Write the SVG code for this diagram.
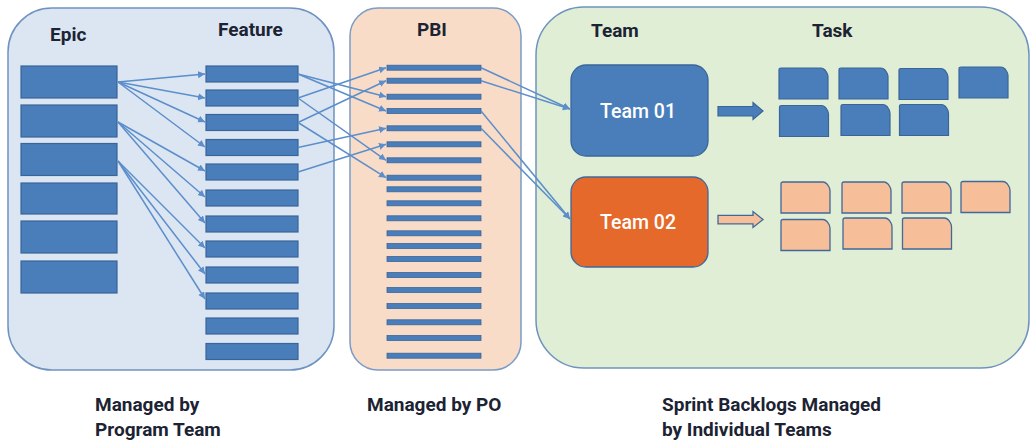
<svg xmlns="http://www.w3.org/2000/svg" xmlns:xlink="http://www.w3.org/1999/xlink" width="1030" height="442" viewBox="0 0 1030 442">
<style>
.lbl{font-family:Roboto,"Liberation Sans",Arial,sans-serif;font-weight:700;font-size:19px;fill:#1c2333}
.wt{font-family:Roboto,"Liberation Sans",Arial,sans-serif;font-weight:500;font-size:19.5px;fill:#ffffff;text-anchor:middle}
.blue{fill:#4a7ebb;stroke:#3a659a;stroke-width:1.2}
.bar{fill:#4a7ebb;stroke:#3a659a;stroke-width:0.8}
.org{fill:#f6bf99;stroke:#41689a;stroke-width:1.3}
.con{fill:none;stroke:#5b8ecb;stroke-width:1.5;marker-end:url(#ah)}
</style>
<defs>
<marker id="ah" markerUnits="userSpaceOnUse" markerWidth="8" markerHeight="8" refX="7" refY="3.5" orient="auto">
<path d="M0,0 L7,3.5 L0,7 Z" fill="#5b8ecb"/>
</marker>
<path id="card" d="M2,0 H42 Q44,0 46,2 L48,5 Q49,7 49,9 V31 H0 V2 Q0,0 2,0 Z"/>
</defs>
<rect width="1030" height="442" fill="#ffffff"/>

<g id="epic-container">
<rect x="8" y="8" width="326" height="362" rx="44" fill="#dce6f2" stroke="#6e93c0" stroke-width="1.5"/>
<text class="lbl" x="50" y="41">Epic</text>
<text class="lbl" x="218" y="36">Feature</text>
</g>
<g id="pbi-container">
<rect x="350" y="8" width="171" height="362" rx="28" fill="#f9dcc8" stroke="#7a9cc6" stroke-width="1.5"/>
<text class="lbl" x="417" y="36">PBI</text>
</g>
<g id="team-container">
<rect x="536" y="7" width="493" height="361" rx="48" fill="#dfeed4" stroke="#6f93be" stroke-width="1.5"/>
<text class="lbl" x="591" y="37">Team</text>
<text class="lbl" x="812" y="37">Task</text>
</g>

<g id="epics">
<rect class="blue" x="21" y="66" width="96" height="32"/>
<rect class="blue" x="21" y="105" width="96" height="32"/>
<rect class="blue" x="21" y="143.5" width="96" height="32"/>
<rect class="blue" x="21" y="183" width="96" height="31"/>
<rect class="blue" x="21" y="221" width="96" height="32"/>
<rect class="blue" x="21" y="261" width="96" height="32"/>
</g>

<g id="features">
<rect class="blue" x="206" y="66" width="92" height="16"/>
<rect class="blue" x="206" y="90" width="92" height="16"/>
<rect class="blue" x="206" y="114.5" width="92" height="16"/>
<rect class="blue" x="206" y="139.5" width="92" height="16"/>
<rect class="blue" x="206" y="164" width="92" height="16"/>
<rect class="blue" x="206" y="190" width="92" height="16"/>
<rect class="blue" x="206" y="216" width="92" height="16"/>
<rect class="blue" x="206" y="241" width="92" height="16"/>
<rect class="blue" x="206" y="267" width="92" height="16"/>
<rect class="blue" x="206" y="293" width="92" height="16"/>
<rect class="blue" x="206" y="318" width="92" height="16"/>
<rect class="blue" x="206" y="343.5" width="92" height="16"/>
</g>

<g id="pbis">
<rect class="bar" x="387" y="65.2" width="94" height="5"/>
<rect class="bar" x="387" y="78.2" width="94" height="5"/>
<rect class="bar" x="387" y="94.2" width="94" height="5"/>
<rect class="bar" x="387" y="108.5" width="94" height="5"/>
<rect class="bar" x="387" y="125.8" width="94" height="5"/>
<rect class="bar" x="387" y="141.8" width="94" height="5"/>
<rect class="bar" x="387" y="157.8" width="94" height="5"/>
<rect class="bar" x="387" y="175.2" width="94" height="5"/>
<rect class="bar" x="387" y="186.8" width="94" height="5"/>
<rect class="bar" x="387" y="200.8" width="94" height="5"/>
<rect class="bar" x="387" y="215.8" width="94" height="5"/>
<rect class="bar" x="387" y="230.8" width="94" height="5"/>
<rect class="bar" x="387" y="243.5" width="94" height="5"/>
<rect class="bar" x="387" y="256.5" width="94" height="5"/>
<rect class="bar" x="387" y="272.5" width="94" height="5"/>
<rect class="bar" x="387" y="287.5" width="94" height="5"/>
<rect class="bar" x="387" y="303.5" width="94" height="5"/>
<rect class="bar" x="387" y="319.8" width="94" height="5"/>
<rect class="bar" x="387" y="335.5" width="94" height="5"/>
<rect class="bar" x="387" y="353.2" width="94" height="5"/>
</g>

<g id="team01">
<rect x="571" y="65" width="137" height="91" rx="15" fill="#4a7ebb" stroke="#3a659a" stroke-width="1.3"/>
<text class="wt" x="638" y="118">Team 01</text>
</g>
<g id="team02">
<rect x="571" y="177" width="137" height="90" rx="15" fill="#e5692a" stroke="#41689a" stroke-width="1.3"/>
<text class="wt" x="638" y="229">Team 02</text>
</g>

<g id="block-arrows">
<path class="blue" d="M718,106.5 H753 V102.5 L763,111 L753,119.5 V115.8 H718 Z"/>
<path class="org" d="M718,215.3 H753 V211.5 L763,219.5 L753,227.5 V223.8 H718 Z"/>
</g>

<g id="tasks-team01">
<use xlink:href="#card" class="blue" x="779" y="68"/>
<use xlink:href="#card" class="blue" x="839" y="68"/>
<use xlink:href="#card" class="blue" x="899" y="68.5"/>
<use xlink:href="#card" class="blue" x="959" y="67"/>
<use xlink:href="#card" class="blue" x="779.5" y="105.5"/>
<use xlink:href="#card" class="blue" x="841" y="104.5"/>
<use xlink:href="#card" class="blue" x="899.5" y="104.5"/>
</g>
<g id="tasks-team02">
<use xlink:href="#card" class="org" x="781" y="182"/>
<use xlink:href="#card" class="org" x="842" y="182"/>
<use xlink:href="#card" class="org" x="902" y="182"/>
<use xlink:href="#card" class="org" x="961" y="181.5"/>
<use xlink:href="#card" class="org" x="781" y="219.5"/>
<use xlink:href="#card" class="org" x="843" y="218"/>
<use xlink:href="#card" class="org" x="902.5" y="218"/>
</g>

<g id="connectors">
<path class="con" d="M118,82 L205,74"/>
<path class="con" d="M118,82 L205,98"/>
<path class="con" d="M118,82 L205,122"/>
<path class="con" d="M118,82 L205,147"/>
<path class="con" d="M118,122 L205,171"/>
<path class="con" d="M118,122 L205,197"/>
<path class="con" d="M118,122 L205,223"/>
<path class="con" d="M118,161 L205,248"/>
<path class="con" d="M118,161 L205,274"/>
<path class="con" d="M118,161 L205,299"/>
<path class="con" d="M298,74 L386,96.7"/>
<path class="con" d="M298,74 L386,111"/>
<path class="con" d="M298,98 L386,67.7"/>
<path class="con" d="M298,98 L386,160.3"/>
<path class="con" d="M298,122.5 L386,80.7"/>
<path class="con" d="M298,122.5 L386,177.7"/>
<path class="con" d="M298,147.5 L386,128.3"/>
<path class="con" d="M298,172 L386,144.3"/>
<path class="con" d="M481,67.7 L570,109"/>
<path class="con" d="M481,80.7 L570,109"/>
<path class="con" d="M481,111 L570,219"/>
<path class="con" d="M481,128.3 L570,219"/>
</g>

<g id="captions">
<text class="lbl" x="95" y="411">Managed by</text>
<text class="lbl" x="95" y="436">Program Team</text>
<text class="lbl" x="367" y="411">Managed by PO</text>
<text class="lbl" x="662" y="411">Sprint Backlogs Managed</text>
<text class="lbl" x="662" y="436">by Individual Teams</text>
</g>
</svg>
